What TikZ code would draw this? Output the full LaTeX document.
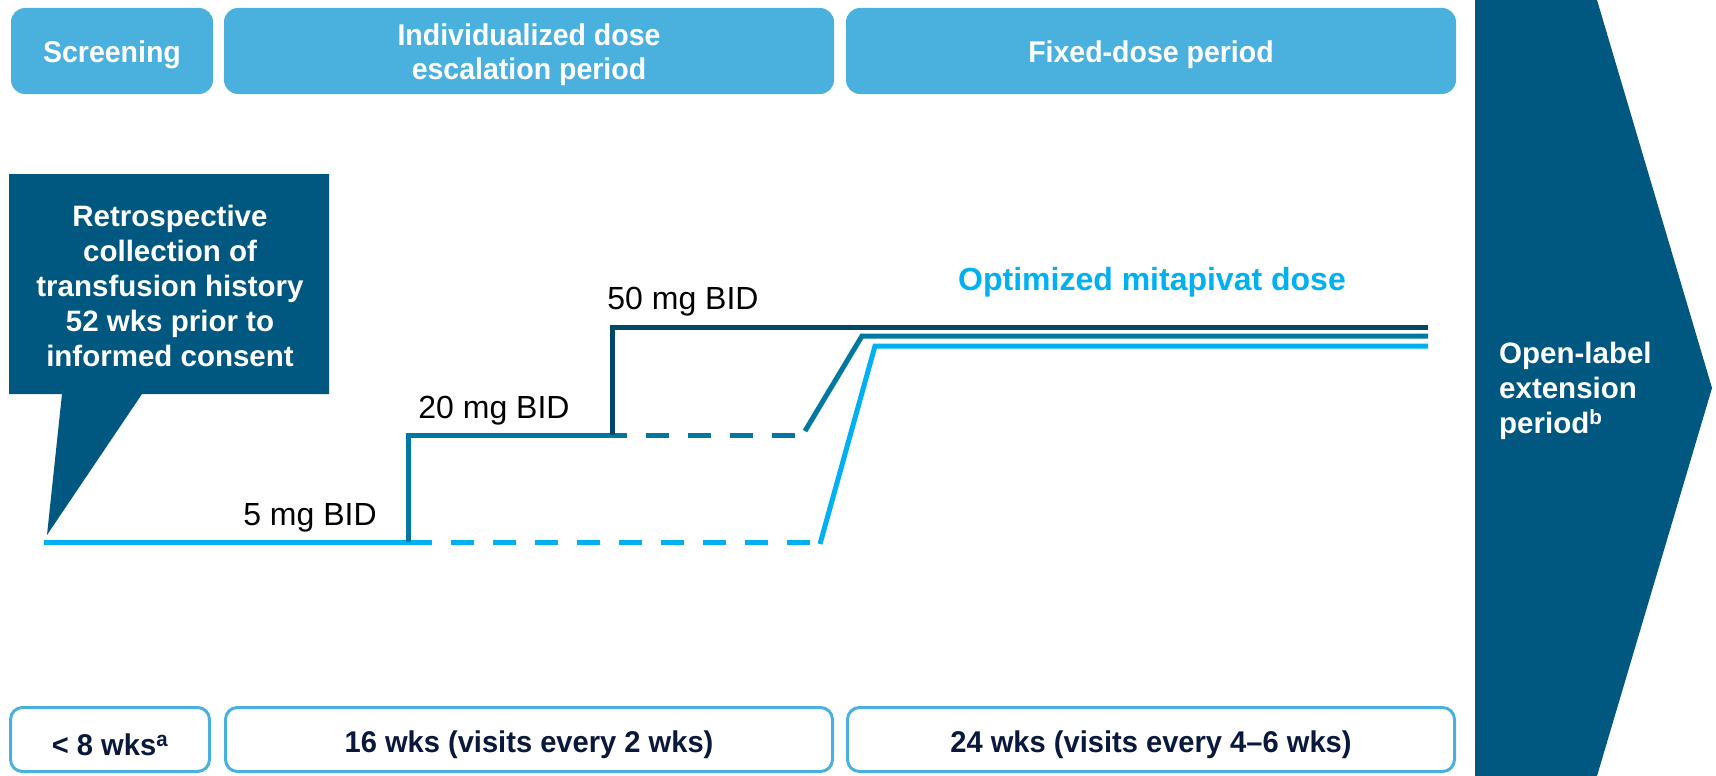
\documentclass[tikz,border=0pt]{standalone}
\usepackage{fontspec}
\setmainfont{Liberation Sans}
\newfontfamily\nb{Liberation Sans}[FakeStretch=0.95]
\newfontfamily\nbb{Liberation Sans}[FakeStretch=0.97]
\definecolor{topblue}{RGB}{74,176,222}
\definecolor{navytext}{RGB}{10,24,60}
\definecolor{calloutblue}{RGB}{0,88,128}
\definecolor{lightline}{RGB}{0,176,240}
\definecolor{midline}{RGB}{0,120,160}
\definecolor{darkline}{RGB}{0,72,100}
\begin{document}
\begin{tikzpicture}[x=1pt,y=-1pt,
  topbox/.style={fill=topblue, rounded corners=14pt, minimum height=86pt, inner sep=0pt},
  toptext/.style={text=white, font=\nb\bfseries\fontsize{30}{34}\selectfont, align=center, inner sep=0pt},
  botbox/.style={draw=topblue, line width=3pt, fill=white, rounded corners=12pt, minimum height=64pt, inner sep=0pt},
  bottext/.style={text=navytext, font=\nbb\bfseries\fontsize{30}{34}\selectfont, align=center, inner sep=0pt},
  doselbl/.style={font=\fontsize{32}{36}\selectfont, text=black, inner sep=0pt},
  whitebold/.style={text=white, font=\bfseries\fontsize{29.5}{35}\selectfont, inner sep=0pt},
  doseline/.style={line width=5pt},
  dashln/.style={line width=5pt, dash pattern=on 23pt off 19pt, dash phase=23pt}
]
\useasboundingbox (0,0) rectangle (1716,776);

% top period boxes
\node[topbox, minimum width=202pt] (scr) at (112,51) {};
\node[topbox, minimum width=610pt] (esc) at (529,51) {};
\node[topbox, minimum width=610pt] (fix) at (1151,51) {};
\node[toptext] (scrt) at ([yshift=-4pt]scr.center) {Screening};
\node[toptext] (esct) at ([yshift=-4pt]esc.center) {Individualized dose\\escalation period};
\node[toptext] (fixt) at ([yshift=-4pt]fix.center) {Fixed-dose period};

% bottom duration boxes
\node[botbox, minimum width=199pt] (d1) at (110,739.5) {};
\node[botbox, minimum width=607pt] (d2) at (529,739.5) {};
\node[botbox, minimum width=607pt] (d3) at (1151,739.5) {};
\node[bottext] (d1t) at ([yshift=-5pt]d1.center) {< 8 wks\textsuperscript{a}};
\node[bottext] (d2t) at ([yshift=-5pt]d2.center) {16 wks (visits every 2 wks)};
\node[bottext] (d3t) at ([yshift=-5pt]d3.center) {24 wks (visits every 4–6 wks)};

% open-label arrow
\fill[calloutblue] (1475,0) -- (1597,0) -- (1712,388) -- (1597,776) -- (1475,776) -- cycle;
\node[whitebold, anchor=west, align=left] (ole) at (1499,391) {Open-label\\extension\\period\textsuperscript{b}};

% callout
\fill[calloutblue] (9,174) -- (329,174) -- (329,394) -- (142,394) -- (47,535) -- (62,394) -- (9,394) -- cycle;
\node[whitebold, align=center] (call) at (170,286) {Retrospective\\collection of\\transfusion history\\52 wks prior to\\informed consent};

% dose line coordinates
\coordinate (l0) at (44,542);
\coordinate (l1) at (432,542);
\coordinate (l2) at (810,542);
\coordinate (l3) at (820,544);
\coordinate (l4) at (875,346);
\coordinate (l5) at (1428,346);
\coordinate (m0) at (408,542);
\coordinate (m1) at (408,435);
\coordinate (m2) at (627,435);
\coordinate (m3) at (796,435);
\coordinate (m4) at (805,431);
\coordinate (m5) at (862,336);
\coordinate (m6) at (1428,336);
\coordinate (k0) at (612,435);
\coordinate (k1) at (612,327);
\coordinate (k2) at (1428,327);

% light blue (5 mg)
\draw[doseline, lightline] (l0) -- (l1);
\draw[dashln, lightline] (l1) -- (l2);
\draw[doseline, lightline] (l3) -- (l4) -- (l5);
% medium (20 mg)
\draw[doseline, midline] (m0) -- (m1) -- (m2);
\draw[dashln, midline] (m2) -- (m3);
\draw[doseline, midline] (m4) -- (m5) -- (m6);
% dark (50 mg)
\draw[doseline, darkline] (k0) -- (k1) -- (k2);

% dose labels
\node[doselbl] (lbl5) at (310,518) {5 mg BID};
\node[doselbl] (lbl20) at (494,411) {20 mg BID};
\node[doselbl] (lbl50) at (683,302) {50 mg BID};
\node[text=lightline, font=\bfseries\fontsize{32}{36}\selectfont, inner sep=0pt] (opt) at (1152,282) {Optimized mitapivat dose};
\end{tikzpicture}
\end{document}
